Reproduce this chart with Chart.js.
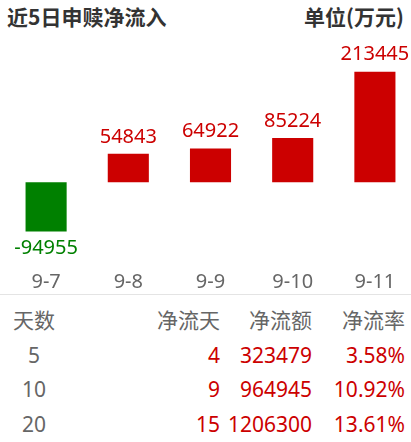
<!DOCTYPE html>
<html>
<head>
<meta charset="utf-8">
<script src="https://cdn.jsdelivr.net/npm/chart.js@4"></script>
<style>
    html, body { margin: 0; padding: 0; background: #fff; overflow: hidden; width: 411px; height: 442px; }
    body { position: relative; font-family: "Noto Sans", "Noto Sans CJK SC", sans-serif; }
    .title { position: absolute; top: 1px; font-size: 21px; font-weight: bold; color: #333; font-family: "Noto Sans CJK SC", sans-serif; }
    #chart-wrap { position: absolute; left: 0; top: 0; width: 416px; height: 300px; }
    .sep { position: absolute; left: 0; top: 294px; width: 411px; height: 1px; background: #e4e4e4; }
    table { position: absolute; top: 303px; left: 0; border-collapse: collapse; font-size: 21px; font-family: "Noto Sans", "Noto Sans CJK SC", sans-serif; }
    td { padding: 0; height: 34.5px; line-height: 34.5px; white-space: nowrap; text-align: right; }
    td.c0 { width: 68px; text-align: center; color: #666; }
    thead td { color: #666; }
    tbody td { color: #cc0000; }
    tbody td.c0 { color: #666; }
</style>
</head>
<body>
<div class="title" style="left:7px">近5日申赎净流入</div>
<div class="title" style="right:7px">单位(万元)</div>
<div class="sep"></div>
<div id="chart-wrap"><canvas id="chart"></canvas></div>
<table id="stats"></table>
<script>
// Bar data (万元)
const dates = ['9-7', '9-8', '9-9', '9-10', '9-11'];
const netFlow = [-94955, 54843, 64922, 85224, 213445];

// Summary table
const tableHead = ['天数', '净流天', '净流额', '净流率'];
const periods = ['5', '10', '20'];
const flowDays = ['4', '9', '15'];
const flowAmount = ['323479', '964945', '1206300'];
const flowRate = ['3.58%', '10.92%', '13.61%'];

const RED = '#cc0000';
const GREEN = '#008000';

// Value labels above / below each bar
const barLabels = {
    id: 'barLabels',
    afterDatasetsDraw(chart) {
        const ctx = chart.ctx;
        const meta = chart.getDatasetMeta(0);
        ctx.save();
        ctx.font = '20px "Noto Sans", sans-serif';
        ctx.textAlign = 'center';
        meta.data.forEach((bar, i) => {
            const v = netFlow[i];
            ctx.fillStyle = v < 0 ? GREEN : RED;
            if (v < 0) {
                ctx.textBaseline = 'top';
                ctx.fillText(String(v), bar.x, bar.y + 7);
            } else {
                ctx.textBaseline = 'bottom';
                ctx.fillText(String(v), bar.x, bar.y - 7);
            }
        });
        ctx.restore();
    }
};

function initChart() {
    const ctx = document.getElementById('chart').getContext('2d');
    new Chart(ctx, {
        type: 'bar',
        data: {
            labels: dates,
            datasets: [{
                data: netFlow,
                backgroundColor: netFlow.map(v => v < 0 ? GREEN : RED),
                barPercentage: 0.5,
                categoryPercentage: 1.0
            }]
        },
        options: {
            responsive: true,
            maintainAspectRatio: false,
            animation: false,
            layout: { padding: { top: 40, left: 5, right: 0, bottom: 6 } },
            plugins: { legend: { display: false }, tooltip: { enabled: false } },
            scales: {
                x: {
                    grid: { display: false },
                    border: { display: false },
                    ticks: { color: '#666', font: { size: 20, family: '"Noto Sans", sans-serif' }, padding: 0 }
                },
                y: {
                    display: false,
                    min: -154000,
                    max: 274500
                }
            }
        },
        plugins: [barLabels]
    });
}

function buildTable() {
    const table = document.getElementById('stats');
    const widths = [null, 152, 92, 93];
    let html = '<thead><tr>';
    tableHead.forEach((h, i) => {
        html += '<td class="c' + i + '"' + (widths[i] ? ' style="width:' + widths[i] + 'px"' : '') + '>' + h + '</td>';
    });
    html += '</tr></thead><tbody>';
    periods.forEach((p, r) => {
        html += '<tr><td class="c0">' + p + '</td><td>' + flowDays[r] + '</td><td>' +
            flowAmount[r] + '</td><td>' + flowRate[r] + '</td></tr>';
    });
    html += '</tbody>';
    table.innerHTML = html;
}

buildTable();
initChart();
</script>
</body>
</html>
